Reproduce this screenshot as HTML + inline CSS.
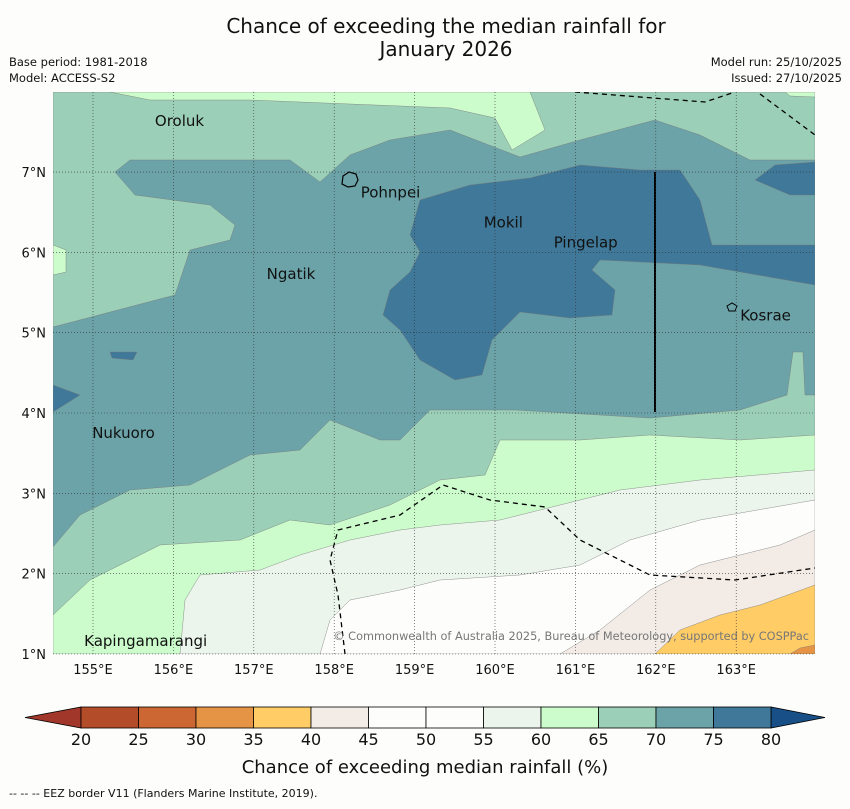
<!DOCTYPE html>
<html><head><meta charset="utf-8">
<style>
body{margin:0;background:#fdfefc;font-family:"Liberation Sans",sans-serif;}
svg text{font-family:"DejaVu Sans","Liberation Sans",sans-serif;}
</style></head>
<body>
<svg id="c" width="850" height="804" viewBox="0 0 850 804" xmlns="http://www.w3.org/2000/svg">
<rect width="850" height="804" fill="#fdfefc"/>
<text x="446" y="33" font-size="20" text-anchor="middle" fill="#111">Chance of exceeding the median rainfall for</text>
<text x="446" y="56" font-size="20" text-anchor="middle" fill="#111">January 2026</text>
<text x="9" y="66" font-size="11.5" fill="#111">Base period: 1981-2018</text>
<text x="9" y="82" font-size="11.5" fill="#111">Model: ACCESS-S2</text>
<text x="842" y="66" font-size="11.5" text-anchor="end" fill="#111">Model run: 25/10/2025</text>
<text x="842" y="82" font-size="11.5" text-anchor="end" fill="#111">Issued: 27/10/2025</text>
<defs><clipPath id="mc"><rect x="53" y="92" width="762" height="562"/></clipPath></defs>
<g id="map" clip-path="url(#mc)"></g>
<g id="axes"></g>
<g id="cbar"></g>
<text x="425" y="773" font-size="18" text-anchor="middle" fill="#111">Chance of exceeding median rainfall (%)</text>
<text x="9" y="797" font-size="11" fill="#111">--  --  -- EEZ border V11 (Flanders Marine Institute, 2019).</text>
</svg>
<script>
const cbLevels=[20,25,30,35,40,45,50,55,60,65,70,75,80];
const cbColors=["#b34c28","#cc6633","#e49444","#ffcc66","#f2ebe6","#fdfefc","#fdfefc","#ecf5ec","#ccfccc","#9bcfb8","#6ba3a8","#3f7898"];
const cbLow="#a0372a", cbHigh="#174f86";
const lonTicks=[155,156,157,158,159,160,161,162,163];
const latTicks=[1,2,3,4,5,6,7];
const places=[["Oroluk",155.77,7.57],["Pohnpei",158.33,6.68],["Mokil",159.86,6.31],["Pingelap",160.73,6.06],["Ngatik",157.16,5.67],["Kosrae",163.05,5.15],["Nukuoro",154.99,3.69],["Kapingamarangi",154.89,1.1]];
const NS="http://www.w3.org/2000/svg";
const x=lon=>93+(lon-155)*80.4;
const y=lat=>654-(lat-1)*80.33;
const cbx=v=>81+(v-20)*(690/60);
function mk(t,a,p){const e=document.createElementNS(NS,t);for(const k in a)e.setAttribute(k,a[k]);p.appendChild(e);return e;}
const map=document.getElementById('map');
const shapes=[
["#9bcfb8","53,92 815,92 815,654 53,654"],
["#ccfccc","110,92 150,100 250,100 350,104 450,108 495,118 512,150 545,130 530,92"],
["#ccfccc","785,92 815,92 815,97 790,96"],
["#ccfccc","53,245 66,250 66,272 53,275"],
["#6ba3a8","53,327 175,295 190,250 230,240 235,225 210,205 135,195 115,172 130,160 290,160 320,182 350,155 390,140 450,130 520,157 580,140 655,120 700,135 750,160 815,160 815,395 805,395 803,352 793,352 787,395 740,410 650,418 515,410 430,410 400,440 380,440 330,420 300,450 250,455 190,485 130,490 80,515 53,547"],
["#3f7898","410,235 420,200 470,185 530,178 580,165 640,170 680,170 700,200 712,245 815,245 815,285 700,265 600,260 592,270 615,290 612,315 570,318 520,312 492,340 482,375 455,380 420,360 400,330 383,315 390,290 410,272 420,252"],
["#3f7898","755,180 775,165 815,162 815,195 790,195"],
["#3f7898","110,352 137,352 133,360 112,358"],
["#3f7898","53,385 80,395 53,412"],
["#ccfccc","53,615 90,580 160,545 240,540 290,520 330,525 390,505 440,480 485,475 500,440 580,440 650,435 740,440 815,435 815,654 53,654"],
["#ecf5ec","180,654 185,600 200,575 260,570 300,555 350,540 400,530 440,525 500,520 560,505 620,490 700,480 815,470 815,654"],
["#fdfefc","320,654 330,620 350,600 400,590 440,580 520,575 580,565 630,540 700,520 815,500 815,654"],
["#f2ebe6","560,654 600,630 650,590 700,565 780,545 815,530 815,654"],
["#ffcc66","655,654 680,630 720,615 760,605 815,585 815,654"],
["#e49444","790,654 800,648 815,645 815,654"]];
shapes.forEach((s,i)=>{const p=mk('polygon',{points:s[1],fill:s[0],stroke:'#777','stroke-width':0.4},map);

});
const ax=document.getElementById('axes');
lonTicks.forEach(l=>{const g=mk('line',{x1:x(l),x2:x(l),y1:92,y2:654,stroke:'#333','stroke-width':0.6,'stroke-dasharray':'1,2'},ax);


const t=mk('text',{x:x(l),y:674,'font-size':13,'text-anchor':'middle',fill:'#111'},ax);t.textContent=l+'°E';

});
latTicks.forEach(l=>{const g=mk('line',{x1:53,x2:815,y1:y(l),y2:y(l),stroke:'#333','stroke-width':0.6,'stroke-dasharray':'1,2'},ax);


const t=mk('text',{x:46,y:y(l)+5,'font-size':13,'text-anchor':'end',fill:'#111'},ax);t.textContent=l+'°N';

});
["575,92 705,102 735,92","760,94 815,135","345,654 338,595 330,560 338,530 400,515 443,485 490,500 545,507 580,540 650,575 735,580 815,568"].forEach(pts=>{
const e=mk('polyline',{points:pts,fill:'none',stroke:'#000','stroke-width':1.3,'stroke-dasharray':'5,4'},map);

});
const vl=mk('line',{x1:655,x2:655,y1:172,y2:412,stroke:'#000','stroke-width':2},map);


const isl=mk('path',{d:'M343,176 l6,-4 7,2 2,6 -3,6 -7,1 -6,-3z',fill:'none',stroke:'#000','stroke-width':1.2},map);


const isk=mk('path',{d:'M727,306 l5,-3 5,3 -2,5 -6,0z',fill:'none',stroke:'#000','stroke-width':1},map);


places.forEach(p=>{const t=mk('text',{x:x(p[1]),y:y(p[2]),'font-size':15,fill:'#111'},map);t.textContent=p[0];

});
const cr=mk('text',{x:809,y:640,'font-size':11.3,'text-anchor':'end',fill:'#777'},map);cr.textContent='© Commonwealth of Australia 2025, Bureau of Meteorology, supported by COSPPac';


const cb=document.getElementById('cbar');
const lt=mk('polygon',{points:`25,717.5 ${cbx(20)},707 ${cbx(20)},728`,fill:cbLow,stroke:'#000','stroke-width':0.8},cb);


const rt=mk('polygon',{points:`825,717.5 ${cbx(80)},707 ${cbx(80)},728`,fill:cbHigh,stroke:'#000','stroke-width':0.8},cb);


cbColors.forEach((c,i)=>{const r=mk('rect',{x:cbx(cbLevels[i]),y:707,width:cbx(cbLevels[i+1])-cbx(cbLevels[i]),height:21,fill:c,stroke:'#000','stroke-width':0.8},cb);

});
cbLevels.forEach(v=>{const t=mk('text',{x:cbx(v),y:745,'font-size':16,'text-anchor':'middle',fill:'#111'},cb);t.textContent=v;

});
</script>
</body></html>
